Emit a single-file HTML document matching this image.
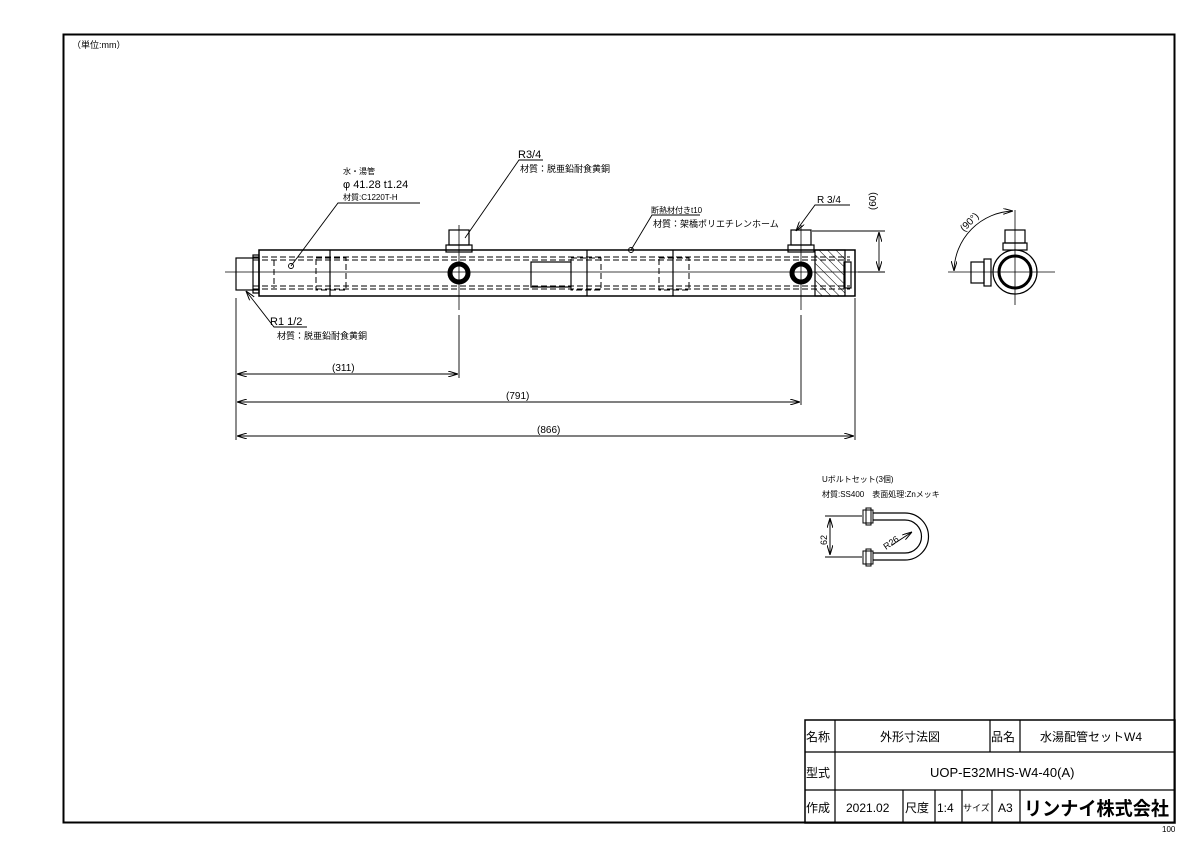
<!DOCTYPE html>
<html><head><meta charset="utf-8"><style>
body{margin:0;background:#fff}
svg{display:block}
text{font-family:"Liberation Sans","Noto Sans CJK JP",sans-serif;fill:#000}
</style></head><body>
<svg width="1200" height="849" viewBox="0 0 1200 849" xmlns="http://www.w3.org/2000/svg">
<defs>
<marker id="a" viewBox="0 0 10 6" refX="10" refY="3" markerWidth="10" markerHeight="6" orient="auto-start-reverse" markerUnits="userSpaceOnUse"><path d="M0,0 L10,3 L0,6" fill="none" stroke="#000" stroke-width="1"/></marker>
<pattern id="h" width="6" height="6" patternUnits="userSpaceOnUse" patternTransform="rotate(-45)"><line x1="0" y1="0" x2="0" y2="6" stroke="#000" stroke-width="1"/></pattern>
</defs>
<rect width="1200" height="849" fill="#fff"/>
<rect x="63.5" y="34.5" width="1111" height="788" fill="none" stroke="#000" stroke-width="2"/>
<text x="72" y="48" font-size="9">（単位:mm）</text>

<g fill="none" stroke="#000" stroke-width="1.2">
<line x1="225" y1="272" x2="870" y2="272" stroke-width="0.8"/>
<rect x="236" y="258" width="23" height="32"/>
<rect x="253" y="255" width="6" height="38"/>
<rect x="259" y="250" width="596" height="46" stroke-width="1.5"/>
<line x1="330" y1="250" x2="330" y2="296"/>
<line x1="587" y1="250" x2="587" y2="296"/>
<line x1="673" y1="250" x2="673" y2="296"/>
<g stroke-dasharray="6,3" stroke-width="1">
<line x1="253" y1="257" x2="850" y2="257"/><line x1="253" y1="260" x2="850" y2="260"/>
<line x1="253" y1="286" x2="850" y2="286"/><line x1="253" y1="289" x2="850" y2="289"/>
<rect x="316" y="258" width="30" height="32"/>
<rect x="571" y="258" width="30" height="32"/>
<rect x="659" y="258" width="30" height="32"/>
<line x1="274" y1="260" x2="274" y2="288"/>
</g>
<rect x="531" y="262" width="40" height="25"/>
<rect x="815" y="250" width="30" height="46" fill="url(#h)"/>
<rect x="844" y="262" width="7" height="26"/>
<rect x="449" y="230" width="20" height="15"/><rect x="446" y="245" width="26" height="7"/>
<rect x="791" y="230" width="20" height="15"/><rect x="788" y="245" width="26" height="7"/>
<line x1="459" y1="225" x2="459" y2="310" stroke-width="0.8"/>
<line x1="801" y1="225" x2="801" y2="310" stroke-width="0.8"/>
</g>
<circle cx="459" cy="273" r="9" fill="none" stroke="#000" stroke-width="5"/>
<circle cx="801" cy="273" r="9" fill="none" stroke="#000" stroke-width="5"/>

<g fill="none" stroke="#000" stroke-width="0.9">
<circle cx="291" cy="266" r="2.5"/>
<polyline points="291,266 338,203 420,203"/>
<polyline points="465,238 519,160 543,160"/>
<circle cx="631" cy="250" r="2.5"/>
<polyline points="631,250 652,215 700,215"/>
<polyline points="796,231 815,205 850,205" marker-start="url(#a)"/>
<polyline points="246,291 274,327 307,327" marker-start="url(#a)"/>
</g>
<text x="343" y="174" font-size="8">水・湯管</text>
<text x="343" y="188" font-size="11">φ 41.28 t1.24</text>
<text x="343" y="200" font-size="8">材質:C1220T-H</text>
<text x="518" y="158" font-size="11">R3/4</text>
<text x="520" y="172" font-size="9">材質：脱亜鉛耐食黄銅</text>
<text x="651" y="213" font-size="8">断熱材付きt10</text>
<text x="653" y="227" font-size="9">材質：架橋ポリエチレンホーム</text>
<text x="817" y="203" font-size="10">R 3/4</text>
<text x="270" y="325" font-size="11">R1 1/2</text>
<text x="277" y="339" font-size="9">材質：脱亜鉛耐食黄銅</text>

<g fill="none" stroke="#000" stroke-width="0.9">
<line x1="236" y1="298" x2="236" y2="440"/>
<line x1="459" y1="315" x2="459" y2="378"/>
<line x1="801" y1="315" x2="801" y2="405"/>
<line x1="855" y1="298" x2="855" y2="440"/>
<line x1="237" y1="374" x2="458" y2="374" marker-start="url(#a)" marker-end="url(#a)"/>
<line x1="237" y1="402" x2="800" y2="402" marker-start="url(#a)" marker-end="url(#a)"/>
<line x1="237" y1="436" x2="854" y2="436" marker-start="url(#a)" marker-end="url(#a)"/>
<line x1="812" y1="231" x2="885" y2="231"/>
<line x1="858" y1="272" x2="885" y2="272"/>
<line x1="879" y1="232" x2="879" y2="271" marker-start="url(#a)" marker-end="url(#a)"/>
</g>
<text x="332" y="371" font-size="10">(311)</text>
<text x="506" y="399" font-size="10">(791)</text>
<text x="537" y="433" font-size="10">(866)</text>
<text x="0" y="0" font-size="10" transform="translate(876,210) rotate(-90)">(60)</text>

<g fill="none" stroke="#000" stroke-width="1.2">
<line x1="948" y1="272" x2="1055" y2="272" stroke-width="0.8"/>
<line x1="1015" y1="210" x2="1015" y2="305" stroke-width="0.8"/>
<circle cx="1015" cy="272" r="22"/>
<circle cx="1015" cy="272" r="16" stroke-width="3"/>
<rect x="1005" y="230" width="20" height="13"/><rect x="1003" y="243" width="24" height="7"/>
<rect x="971" y="262" width="13" height="21"/><rect x="984" y="259" width="7" height="27"/>
<path d="M1013,211 A61,61 0 0 0 954,271" stroke-width="0.9" marker-start="url(#a)" marker-end="url(#a)"/>
</g>
<text x="0" y="0" font-size="10" transform="translate(964,232) rotate(-45)">(90°)</text>

<text x="822" y="482" font-size="8">Uボルトセット(3個)</text>
<text x="822" y="497" font-size="8">材質:SS400　表面処理:Znメッキ</text>
<g fill="none" stroke="#000" stroke-width="1">
<line x1="825" y1="516" x2="862" y2="516"/>
<line x1="825" y1="557" x2="862" y2="557"/>
<line x1="830" y1="518" x2="830" y2="555" marker-start="url(#a)" marker-end="url(#a)"/>
<rect x="863" y="510" width="10" height="13"/><rect x="866" y="508" width="5" height="17"/>
<rect x="863" y="551" width="10" height="13"/><rect x="866" y="549" width="5" height="17"/>
<path d="M873,513 L905,513 A23,23 0 0 1 905,560 L873,560" stroke-width="1.2"/>
<path d="M873,520 L905,520 A16,16 0 0 1 905,553 L873,553" stroke-width="1.2"/>
<line x1="892" y1="545" x2="912" y2="532" marker-end="url(#a)"/>
</g>
<text x="0" y="0" font-size="9" transform="translate(827,545) rotate(-90)">62</text>
<text x="0" y="0" font-size="9" transform="translate(886,550) rotate(-35)">R26</text>

<g fill="none" stroke="#000" stroke-width="1.2">
<rect x="805" y="720" width="370" height="103" stroke-width="1.5"/>
<line x1="805" y1="752" x2="1175" y2="752"/>
<line x1="805" y1="790" x2="1175" y2="790"/>
<line x1="835" y1="720" x2="835" y2="823"/>
<line x1="990" y1="720" x2="990" y2="752"/>
<line x1="1020" y1="720" x2="1020" y2="752"/>
<line x1="903" y1="790" x2="903" y2="823"/>
<line x1="935" y1="790" x2="935" y2="823"/>
<line x1="962" y1="790" x2="962" y2="823"/>
<line x1="992" y1="790" x2="992" y2="823"/>
<line x1="1020" y1="790" x2="1020" y2="823"/>
</g>
<text x="806" y="741" font-size="12">名称</text>
<text x="880" y="741" font-size="12">外形寸法図</text>
<text x="991" y="741" font-size="12">品名</text>
<text x="1040" y="741" font-size="12">水湯配管セットW4</text>
<text x="806" y="777" font-size="12">型式</text>
<text x="930" y="777" font-size="13">UOP-E32MHS-W4-40(A)</text>
<text x="806" y="812" font-size="12">作成</text>
<text x="846" y="812" font-size="12">2021.02</text>
<text x="905" y="812" font-size="12">尺度</text>
<text x="937" y="812" font-size="12">1:4</text>
<text x="963" y="811" font-size="9">サイズ</text>
<text x="998" y="812" font-size="12">A3</text>
<text x="1024" y="815" font-size="19" font-weight="bold" textLength="145" lengthAdjust="spacingAndGlyphs">リンナイ株式会社</text>
<text x="1162" y="832" font-size="8">100</text>
</svg>
</body></html>
